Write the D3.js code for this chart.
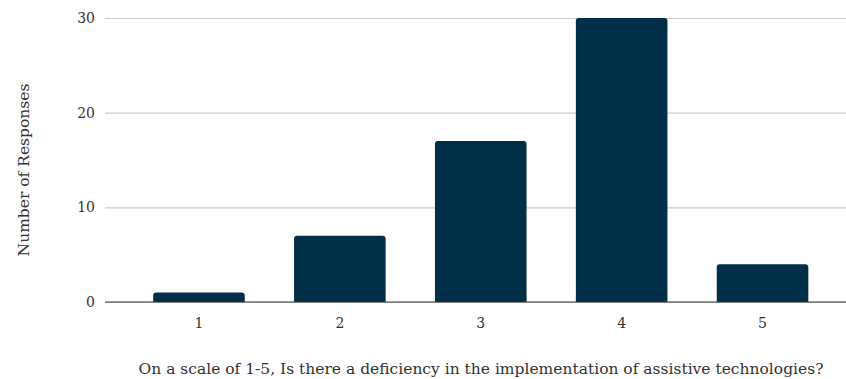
<!DOCTYPE html>
<html>
<head>
<meta charset="utf-8">
<script src="https://cdn.jsdelivr.net/npm/d3@7"></script>
<style>
  html, body { margin: 0; padding: 0; background: #fff; }
  svg text { font-family: "DejaVu Serif", "Liberation Serif", serif; fill: #333; }
</style>
</head>
<body>
<svg id="chart" width="846" height="379"></svg>
<script>
// Survey responses per rating on the 1-5 scale
const categories = ["1", "2", "3", "4", "5"];
const responses = [1, 7, 17, 30, 4];
const yTicks = [0, 10, 20, 30];
const xTitle = "On a scale of 1-5, Is there a deficiency in the implementation of assistive technologies?";
const yTitle = "Number of Responses";

const svg = d3.select("#chart");
const plot = { left: 105, right: 846, top: 18, bottom: 302 };

const x = d3.scaleBand()
  .domain(categories)
  .range([128.5, 833])
  .paddingInner(0.35)
  .paddingOuter(0.175);

const y = d3.scaleLinear()
  .domain([0, 30])
  .range([plot.bottom, plot.top]);

// horizontal gridlines with tick labels
const yAxis = svg.append("g")
  .attr("transform", `translate(${plot.left},0)`)
  .call(d3.axisLeft(y).tickValues(yTicks).tickSize(-(plot.right - plot.left)).tickPadding(10));
yAxis.select(".domain").remove();
yAxis.selectAll(".tick line").attr("stroke", "#cccccc").attr("stroke-width", 1.2);
yAxis.selectAll(".tick text").attr("font-size", 14).attr("fill", "#333");

// bars with slightly rounded top corners
const r = 3;
svg.append("g").selectAll("path")
  .data(categories.map((c, i) => ({ c, v: responses[i] })))
  .join("path")
  .attr("fill", "#022f48")
  .attr("d", d => {
    const x0 = x(d.c), w = x.bandwidth(), y0 = y(d.v), y1 = y(0);
    return `M${x0},${y1} V${y0 + r} Q${x0},${y0} ${x0 + r},${y0} H${x0 + w - r} Q${x0 + w},${y0} ${x0 + w},${y0 + r} V${y1} Z`;
  });

// baseline
svg.append("line")
  .attr("x1", plot.left).attr("x2", plot.right)
  .attr("y1", y(0)).attr("y2", y(0))
  .attr("stroke", "#333").attr("stroke-width", 1.2);

// category labels
const xAxis = svg.append("g")
  .attr("transform", `translate(0,${plot.bottom})`)
  .call(d3.axisBottom(x).tickSize(0).tickPadding(16));
xAxis.select(".domain").remove();
xAxis.selectAll(".tick text").attr("font-size", 14).attr("fill", "#333");

// axis titles
svg.append("text")
  .attr("x", 481).attr("y", 374)
  .attr("text-anchor", "middle")
  .attr("font-size", 15.5)
  .text(xTitle);

svg.append("text")
  .attr("transform", "translate(29,170) rotate(-90)")
  .attr("text-anchor", "middle")
  .attr("font-size", 15.5)
  .text(yTitle);
</script>
</body>
</html>
